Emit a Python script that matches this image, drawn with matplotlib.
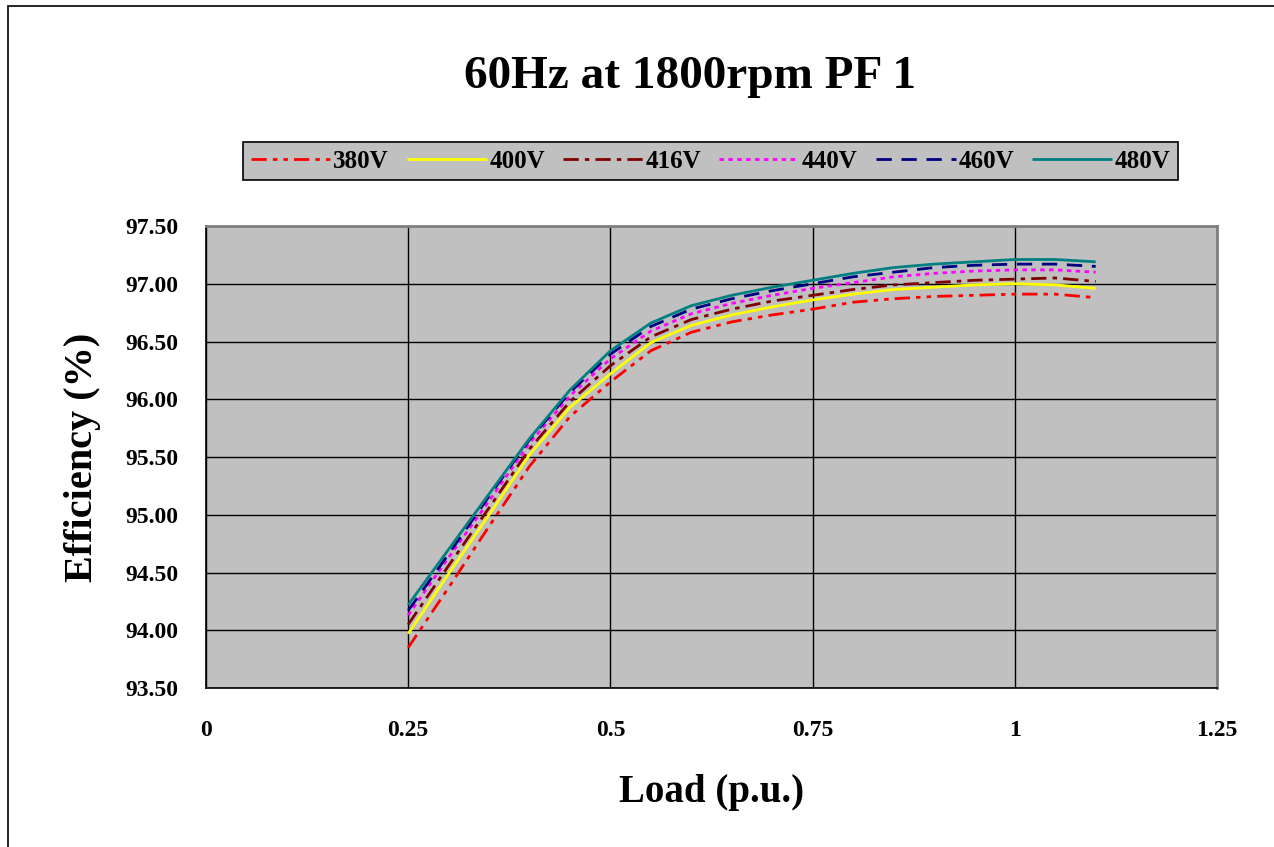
import matplotlib
matplotlib.use("Agg")
import matplotlib.pyplot as plt
from matplotlib.patches import Rectangle

plt.rcParams['font.family'] = ['Liberation Serif', 'DejaVu Serif']
plt.rcParams['font.weight'] = 'bold'

# load points (p.u.)
load = [0.25, 0.30, 0.35, 0.40, 0.45, 0.50, 0.55, 0.60, 0.65,
        0.70, 0.75, 0.80, 0.85, 0.90, 0.95, 1.00, 1.05, 1.10]

# efficiency (%) per voltage
eff_380 = [93.85, 94.37, 94.90, 95.42, 95.85, 96.15, 96.42, 96.58, 96.67,
           96.73, 96.78, 96.84, 96.87, 96.89, 96.90, 96.91, 96.91, 96.88]
eff_400 = [93.97, 94.49, 95.00, 95.52, 95.93, 96.22, 96.49, 96.64, 96.73,
           96.80, 96.86, 96.91, 96.95, 96.97, 96.99, 97.00, 96.99, 96.96]
eff_416 = [94.05, 94.56, 95.06, 95.57, 95.98, 96.29, 96.54, 96.69, 96.78,
           96.85, 96.90, 96.95, 96.99, 97.01, 97.03, 97.04, 97.05, 97.02]
eff_440 = [94.13, 94.63, 95.12, 95.62, 96.03, 96.35, 96.59, 96.74, 96.83,
           96.90, 96.96, 97.01, 97.06, 97.09, 97.11, 97.12, 97.12, 97.10]
eff_460 = [94.17, 94.66, 95.16, 95.65, 96.06, 96.39, 96.63, 96.78, 96.87,
           96.94, 97.00, 97.06, 97.10, 97.14, 97.16, 97.17, 97.17, 97.15]
eff_480 = [94.22, 94.70, 95.18, 95.66, 96.08, 96.42, 96.66, 96.81, 96.90,
           96.97, 97.03, 97.09, 97.14, 97.17, 97.19, 97.21, 97.21, 97.19]

labels = ['380V', '400V', '416V', '440V', '460V', '480V']
series = [eff_380, eff_400, eff_416, eff_440, eff_460, eff_480]
colors = ['#FF0000', '#FFFF00', '#800000', '#FF00FF', '#000080', '#008080']
styles = [(0, (5.5, 2.2, 1.6, 2.2, 1.6, 2.2)), '-', (0, (5.5, 2.2, 1.6, 2.2)),
          (0, (1.6, 1.6)), (0, (5.5, 3.5)), '-']

x_ticks = [0, 0.25, 0.5, 0.75, 1, 1.25]
x_ticklabels = ['0', '0.25', '0.5', '0.75', '1', '1.25']
y_ticks = [93.5, 94.0, 94.5, 95.0, 95.5, 96.0, 96.5, 97.0, 97.5]

W, H = 1274, 847
fig = plt.figure(figsize=(W / 100, H / 100), dpi=100)
fig.patch.set_facecolor('white')
# outer chart border
fig.patches.append(Rectangle((8 / W, -0.1), 1.2, 1.1 - 6 / H, transform=fig.transFigure,
                             fill=False, edgecolor='black', linewidth=1.2))

ax = fig.add_axes([206 / W, 1 - 688 / H, (1217 - 206) / W, (688 - 226) / H])
ax.set_facecolor('#C0C0C0')

for y, lab, c, ls in zip(series, labels, colors, styles):
    ax.plot(load, y, color=c, linestyle=ls, linewidth=2.0, label=lab,
            solid_capstyle='butt', dash_capstyle='butt')

ax.set_xlim(0, 1.25)
ax.set_ylim(93.5, 97.5)
ax.set_xticks(x_ticks)
ax.set_xticklabels(x_ticklabels)
ax.set_yticks(y_ticks)
ax.set_yticklabels(['%.2f' % v for v in y_ticks])
ax.grid(True, color='black', linewidth=1.0)
ax.set_axisbelow(True)
ax.tick_params(axis='both', length=0, labelsize=17)
ax.tick_params(axis='x', pad=23)
ax.tick_params(axis='y', pad=20)
for side in ['top', 'right']:
    ax.spines[side].set_color('#808080')
    ax.spines[side].set_linewidth(2)
for side in ['left', 'bottom']:
    ax.spines[side].set_color('black')
    ax.spines[side].set_linewidth(1.2)

ax.set_xlabel('Load (p.u.)', fontsize=28, fontweight='bold', labelpad=24)
ax.set_ylabel('Efficiency (%)', fontsize=29, fontweight='bold', labelpad=17)

fig.text(690 / W, 1 - 77 / H, '60Hz at 1800rpm PF 1', fontsize=34, fontweight='bold',
         ha='center', va='center')

leg = fig.legend(loc='lower left', ncol=6, mode='expand',
                 bbox_to_anchor=(243 / W, 1 - 180 / H, 935 / W, 39 / H),
                 fontsize=18, handlelength=3.2, handletextpad=0.1,
                 borderaxespad=0, fancybox=False, framealpha=1, borderpad=0.3)
leg.get_frame().set_facecolor('#C0C0C0')
leg.get_frame().set_edgecolor('black')
leg.get_frame().set_linewidth(1.2)

fig.savefig('out.png', dpi=100)
